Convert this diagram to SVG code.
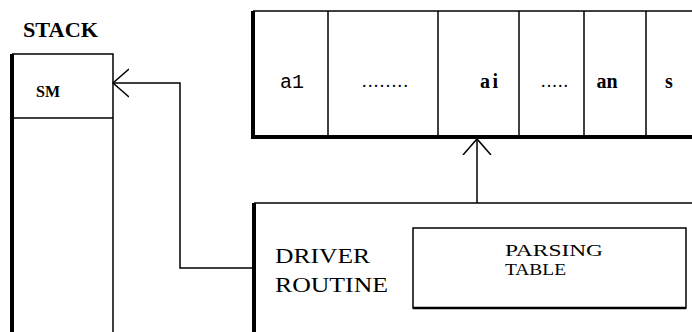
<svg xmlns="http://www.w3.org/2000/svg" width="692" height="332" viewBox="0 0 692 332">
<defs>
<style>
.ln{stroke:#000;stroke-width:1.5;fill:none}
.thick{stroke:#000;stroke-width:4;fill:none}
</style>
<marker id="open" viewBox="0 0 20 30" refX="16" refY="15" markerWidth="20" markerHeight="30" markerUnits="userSpaceOnUse" orient="auto">
<path d="M0,1 L16,15 L0,29" stroke="#000" stroke-width="1.5" fill="none"/>
</marker>
</defs>
<rect width="692" height="332" fill="#fff"/>
<g id="stack">
<text x="23" y="37" font-family="'Liberation Serif', 'Times New Roman', serif" font-size="21" font-weight="bold" textLength="75" lengthAdjust="spacingAndGlyphs">STACK</text>
<path class="ln" d="M12,54 H113 V332"/>
<line class="ln" x1="12" y1="118" x2="113" y2="118"/>
<line class="thick" x1="12" y1="54" x2="12" y2="332"/>
<text x="48" y="97" font-family="'Liberation Serif', 'Times New Roman', serif" font-size="16" font-weight="bold" text-anchor="middle">SM</text>
</g>
<g id="tape">
<path class="ln" d="M253,11 H692"/>
<line class="thick" x1="253" y1="11" x2="253" y2="139"/>
<line class="thick" x1="251" y1="137" x2="692" y2="137"/>
<line class="ln" x1="328" y1="11" x2="328" y2="137"/>
<line class="ln" x1="438" y1="11" x2="438" y2="137"/>
<line class="ln" x1="519" y1="11" x2="519" y2="137"/>
<line class="ln" x1="584" y1="11" x2="584" y2="137"/>
<line class="ln" x1="646" y1="11" x2="646" y2="137"/>
<text x="292" y="88" font-family="'Liberation Mono', 'Courier New', monospace" font-size="20" text-anchor="middle">a1</text>
<text x="362" y="87" font-family="'Liberation Serif', 'Times New Roman', serif" font-size="18" textLength="46" lengthAdjust="spacing">........</text>
<text x="489" y="88" font-family="'Liberation Serif', 'Times New Roman', serif" font-size="20" font-weight="bold" text-anchor="middle" textLength="18" lengthAdjust="spacing">ai</text>
<text x="541" y="87" font-family="'Liberation Serif', 'Times New Roman', serif" font-size="18" textLength="27" lengthAdjust="spacing">.....</text>
<text x="607" y="88" font-family="'Liberation Serif', 'Times New Roman', serif" font-size="20" font-weight="bold" text-anchor="middle">an</text>
<text x="669" y="88" font-family="'Liberation Serif', 'Times New Roman', serif" font-size="20" font-weight="bold" text-anchor="middle">s</text>
</g>
<g id="driver">
<path class="ln" d="M254,203 H692"/>
<line class="thick" x1="254" y1="203" x2="254" y2="332"/>
<text x="275" y="263" font-family="'Liberation Serif', 'Times New Roman', serif" font-size="21" textLength="95" lengthAdjust="spacingAndGlyphs">DRIVER</text>
<text x="275" y="292" font-family="'Liberation Serif', 'Times New Roman', serif" font-size="21" textLength="113" lengthAdjust="spacingAndGlyphs">ROUTINE</text>
</g>
<g id="parsing-table">
<rect class="ln" x="413" y="228" width="273" height="80"/>
<line x1="413" y1="308" x2="686" y2="308" stroke="#000" stroke-width="2.5"/>
<text x="505" y="256" font-family="'Liberation Serif', 'Times New Roman', serif" font-size="16" textLength="98" lengthAdjust="spacingAndGlyphs">PARSING</text>
<text x="505" y="275" font-family="'Liberation Serif', 'Times New Roman', serif" font-size="16" textLength="61" lengthAdjust="spacingAndGlyphs">TABLE</text>
</g>
<g id="connectors">
<path class="ln" d="M252,268 H180 V83 H113" marker-end="url(#open)"/>
<path class="ln" d="M477,203 V139" marker-end="url(#open)"/>
</g>
</svg>
